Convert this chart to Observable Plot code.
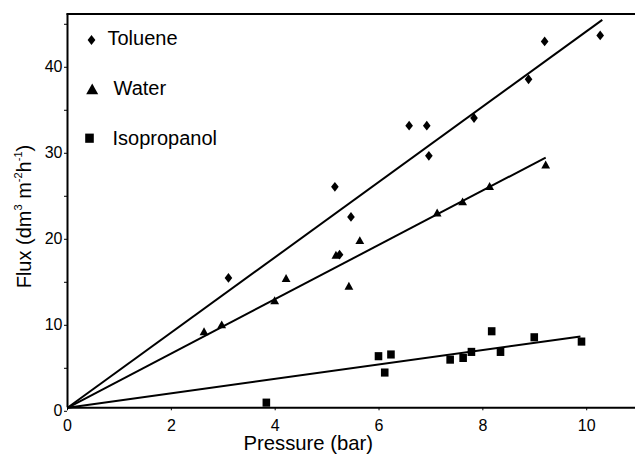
<!DOCTYPE html>
<html>
<head>
<meta charset="utf-8">
<script src="https://cdn.jsdelivr.net/npm/d3@7"></script>
<script src="https://cdn.jsdelivr.net/npm/@observablehq/plot@0.6"></script>
<style>
  html, body { margin: 0; padding: 0; background: #fff; }
  #chart { width: 635px; height: 457px; }
  #chart svg { display: block; }
</style>
</head>
<body>
<div id="chart"></div>
<script>
// Permeate flux versus applied pressure for three solvents
const series = ["Toluene", "Water", "Isopropanol"];

const tolueneP = [3.10, 5.15, 5.24, 5.46, 6.58, 6.92, 6.96, 7.83, 8.88, 9.19, 10.26];
const tolueneFlux = [15.1, 25.7, 17.8, 22.2, 32.8, 32.8, 29.3, 33.7, 38.2, 42.6, 43.3];

const waterP = [2.63, 2.97, 3.99, 4.21, 5.17, 5.42, 5.63, 7.12, 7.61, 8.13, 9.21];
const waterFlux = [8.9, 9.7, 12.5, 15.1, 17.8, 14.2, 19.5, 22.7, 24.0, 25.8, 28.3];

const isoP = [3.83, 5.99, 6.11, 6.23, 7.37, 7.62, 7.78, 8.17, 8.34, 8.99, 9.90];
const isoFlux = [0.6, 6.0, 4.1, 6.2, 5.6, 5.8, 6.5, 8.9, 6.5, 8.2, 7.7];

// Linear fits through the origin (start and end of each fitted segment)
const fitStartP = [0, 0, 0];
const fitStartFlux = [0, 0, 0];
const fitEndP = [10.3, 9.21, 9.88];
const fitEndFlux = [45.1, 29.1, 8.3];

const xTicks = [0, 2, 4, 6, 8, 10];
const yTicks = [0, 5, 10, 15, 20, 25, 30, 35, 40, 45];

const xTitle = "Pressure (bar)";
// y title pieces: [text, superscript?]
const yTitleParts = [["Flux (dm", 0], ["3", 1], [" m", 0], ["-2", 1], ["h", 0], ["-1", 1], [")", 0]];

// Marker shapes
const diamond = {
  draw(ctx, size) {
    const r = Math.sqrt(size / Math.PI), w = r * 0.78;
    ctx.moveTo(0, -r); ctx.lineTo(w, 0); ctx.lineTo(0, r); ctx.lineTo(-w, 0); ctx.closePath();
  }
};
const triangle = {
  draw(ctx, size) {
    const r = Math.sqrt(size / Math.PI), h = r * 0.9;
    ctx.moveTo(0, -h); ctx.lineTo(r, h); ctx.lineTo(-r, h); ctx.closePath();
  }
};
const square = {
  draw(ctx, size) {
    const r = Math.sqrt(size / Math.PI), h = r * 1.07;
    ctx.moveTo(-r, -h); ctx.lineTo(r, -h); ctx.lineTo(r, h); ctx.lineTo(-r, h); ctx.closePath();
  }
};
const symbols = [diamond, triangle, square];

const pts = (xs, ys) => xs.map((x, i) => ({x, y: ys[i]}));
const seriesPoints = [pts(tolueneP, tolueneFlux), pts(waterP, waterFlux), pts(isoP, isoFlux)];
const dataR = [4.9, 4.4, 3.8];

const fits = series.map((s, i) => ({
  series: s, x1: fitStartP[i], y1: fitStartFlux[i], x2: fitEndP[i], y2: fitEndFlux[i]
}));

// Legend layout inside the frame (offsets from the frame's top-left corner)
const legendSymbolDx = [24, 24.7, 22];
const legendSymbolDy = [26, 74.8, 124.2];
const legendSymbolR = [5, 6, 4.3];
const legendTextDx = [40, 46, 45];
const legendTextDy = [24.5, 74.8, 124.3];

const sans = "'Liberation Sans', Arial, sans-serif";
const narrow = "'Liberation Sans Narrow', 'Arial Narrow', 'Liberation Sans', Arial, sans-serif";
const W = 635, H = 457;
const mL = 67, mR = 0, mT = 13.5, mB = 49.7;

const chart = Plot.plot({
  width: W,
  height: H,
  marginLeft: mL,
  marginRight: mR,
  marginTop: mT,
  marginBottom: mB,
  style: {fontFamily: sans, color: "#000", background: "#fff"},
  x: {domain: [0, 10.94]},
  y: {domain: [0, 45.79]},
  marks: [
    Plot.axisX({ticks: xTicks, tickSize: 3, tickPadding: 8.5, fontSize: 16, fontFamily: narrow, label: null}),
    Plot.axisY({ticks: yTicks, tickFormat: d => d % 10 === 0 ? d : "", tickSize: 3, tickPadding: 2,
                fontSize: 16, fontFamily: narrow, dy: 3.5, label: null}),
    Plot.ruleX([0], {strokeWidth: 2}),
    Plot.ruleY([0], {strokeWidth: 2}),
    Plot.frame({anchor: "top", strokeWidth: 2}),
    Plot.link(fits, {x1: "x1", y1: "y1", x2: "x2", y2: "y2", stroke: "#000", strokeWidth: 2}),
    ...[2, 1, 0].map(i => Plot.dot(seriesPoints[i], {x: "x", y: "y", symbol: symbols[i], r: dataR[i], fill: "#000"})),
    ...series.map((s, i) => Plot.dot([s], {frameAnchor: "top-left", dx: legendSymbolDx[i], dy: legendSymbolDy[i],
                                          symbol: symbols[i], r: legendSymbolR[i], fill: "#000"})),
    ...series.map((s, i) => Plot.text([s], {frameAnchor: "top-left", dx: legendTextDx[i], dy: legendTextDy[i],
                                           text: d => d, textAnchor: "start", lineAnchor: "middle",
                                           fontSize: 20, fill: "#000"}))
  ]
});

document.getElementById("chart").appendChild(chart);

// Axis titles (the y title carries superscripted units)
const svg = d3.select(chart);
svg.append("text")
  .attr("x", mL + 241.3)
  .attr("y", H - mB + 42.7)
  .attr("text-anchor", "middle")
  .style("font-family", sans)
  .style("font-size", "20.3px")
  .attr("fill", "#000")
  .text(xTitle);

const yTitle = svg.append("text")
  .attr("transform", `translate(30.7,${H - mB - 119}) rotate(-90)`)
  .attr("text-anchor", "start")
  .style("font-family", sans)
  .style("font-size", "20px")
  .attr("fill", "#000");
let raised = false;
for (const [t, sup] of yTitleParts) {
  const ts = yTitle.append("tspan").text(t);
  if (sup) {
    ts.style("font-size", "11px");
    if (!raised) { ts.attr("dy", -9); raised = true; }
  } else if (raised) {
    ts.attr("dy", 9); raised = false;
  }
}
</script>
</body>
</html>
